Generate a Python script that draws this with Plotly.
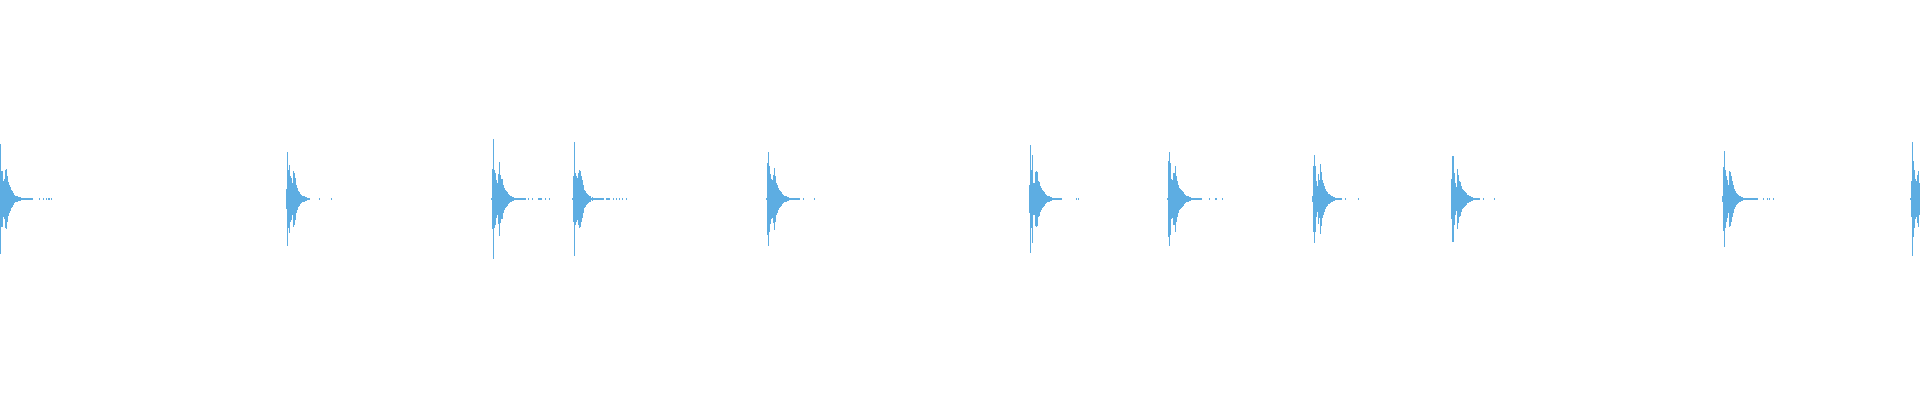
import plotly.graph_objects as go

# Onset sample (column) of each percussive hit
hit_onsets = [0, 286, 491, 572, 766, 1029, 1167, 1312, 1451, 1722, 1910]

# Peak amplitude envelopes per hit (arbitrary units)
hit_01 = [55, 28, 28, 18, 20, 29, 30, 23, 17, 14, 12, 9, 8, 6, 4, 3, 3, 3, 2, 2, 2, 1, 1, 1]
hit_02 = [10, 47, 29, 34, 23, 21, 16, 28, 26, 21, 14, 11, 8, 7, 5, 4, 3, 3, 3, 2, 2, 1, 1, 1]
hit_03 = [1, 30, 60, 29, 26, 19, 16, 25, 37, 24, 20, 20, 14, 11, 9, 8, 7, 5, 4, 3, 3, 2, 2, 1, 1]
hit_04 = [1, 23, 57, 26, 23, 21, 26, 29, 28, 23, 19, 14, 9, 8, 6, 5, 4, 3, 3, 1, 2, 1, 1]
hit_05 = [1, 36, 47, 33, 25, 20, 19, 24, 31, 23, 16, 14, 11, 9, 8, 7, 5, 4, 3, 3, 3, 2, 2, 1, 1]
hit_06 = [14, 54, 29, 44, 16, 16, 27, 28, 27, 18, 17, 13, 11, 9, 8, 7, 5, 4, 3, 3, 3, 2, 2, 1, 1, 1]
hit_07 = [1, 38, 47, 36, 20, 19, 26, 26, 33, 23, 18, 14, 11, 10, 9, 8, 7, 5, 4, 3, 3, 3, 2, 2, 1, 1]
hit_08 = [3, 33, 44, 33, 18, 13, 25, 19, 35, 27, 19, 16, 13, 10, 8, 7, 5, 5, 4, 3, 3, 2, 2, 1, 1, 1, 1, 1]
hit_09 = [20, 43, 43, 26, 16, 12, 30, 24, 18, 17, 13, 10, 9, 8, 7, 6, 4, 4, 3, 3, 2, 2, 1, 1]
hit_10 = [3, 32, 48, 29, 23, 19, 14, 28, 27, 23, 18, 14, 10, 8, 6, 5, 4, 3, 3, 2, 2, 1, 1, 1, 1]
hit_11 = [1, 18, 57, 38, 29, 20, 18, 24, 28, 16]
hit_envelopes = [hit_01, hit_02, hit_03, hit_04, hit_05, hit_06,
                 hit_07, hit_08, hit_09, hit_10, hit_11]

# Length of the low-level residual tail (samples) after each envelope
tail_lengths = [9, 0, 10, 9, 9, 7, 9, 2, 5, 11, 0]
tail_level = 0.5

# Isolated low-level clicks after the hits
click_samples = [39, 43, 46, 48, 49, 51, 319, 331,
                 528, 532, 538, 539, 540, 541, 545, 549,
                 606, 607, 608, 609, 613, 616, 619, 622, 626,
                 803, 814, 1076, 1078, 1209, 1215, 1216, 1222,
                 1345, 1358, 1483, 1494, 1763, 1767, 1769, 1773]

xs, amps = [], []
for onset, env, tl in zip(hit_onsets, hit_envelopes, tail_lengths):
    for i, a in enumerate(env):
        xs.append(onset + i)
        amps.append(a)
    for j in range(tl):
        xs.append(onset + len(env) + j)
        amps.append(tail_level)
for c in click_samples:
    xs.append(c)
    amps.append(tail_level)

fig = go.Figure(go.Bar(
    x=xs,
    y=[2 * a for a in amps],
    base=[-a for a in amps],
    width=1,
    marker=dict(color="#5DADE2", line=dict(width=0)),
    hoverinfo="skip",
))

fig.update_layout(
    width=1920, height=400,
    margin=dict(l=0, r=0, t=0, b=0),
    paper_bgcolor="white", plot_bgcolor="white",
    showlegend=False, bargap=0,
    xaxis=dict(range=[-0.5, 1919.5], visible=False, fixedrange=True),
    yaxis=dict(range=[-200.7, 199.3], visible=False, fixedrange=True),
)

fig.write_html(
    "out.html",
    config={"displayModeBar": False},
    post_script="document.body.style.margin='0';document.body.style.overflow='hidden';",
)
